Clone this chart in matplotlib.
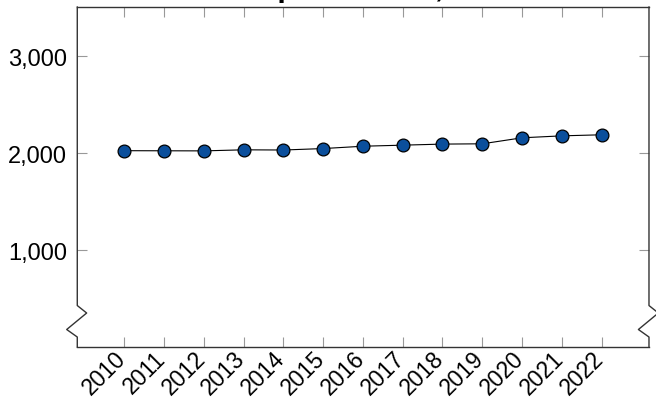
import matplotlib
matplotlib.use('Agg')
import matplotlib.pyplot as plt
import matplotlib.transforms as mtransforms

plt.rcParams['font.family'] = ['Liberation Sans', 'DejaVu Sans']

# dados
anos = [2010, 2011, 2012, 2013, 2014, 2015, 2016, 2017, 2018, 2019, 2020, 2021, 2022]
valores = [2024, 2023, 2022, 2033, 2031, 2046, 2070, 2081, 2092, 2095, 2157, 2177, 2188]
yticks = [1000, 2000, 3000]
ytick_labels = ['1,000', '2,000', '3,000']
titulo = 'Total production, thousand tons'

fig = plt.figure(figsize=(6.56, 4.02), dpi=100)
ax = fig.add_axes([0.1178, 0.1343, 0.8715, 0.8457])

ax.plot(anos, valores, color='black', linewidth=0.8, marker='o', markersize=9.2,
        markerfacecolor='#0b4f9c', markeredgecolor='black', markeredgewidth=0.9, zorder=3)

ax.set_xlim(2008.82, 2023.19)
ax.set_ylim(0, 3505)
ax.set_xticks(anos)
ax.set_xticklabels([str(a) for a in anos])
ax.set_yticks(yticks)
ax.set_yticklabels(ytick_labels)

ax.tick_params(axis='both', which='both', direction='in', length=7.2, width=0.8,
               color='#999999', top=True, right=True, labelsize=17)
ax.tick_params(axis='y', pad=7.5)
ax.tick_params(axis='x', pad=1, labelsize=16.5)

# rotulos do eixo x girados e deslocados um pouco p/ esquerda
desloc = mtransforms.ScaledTranslation(-10 / 100, 2 / 100, fig.dpi_scale_trans)
for lab in ax.get_xticklabels():
    lab.set_rotation(45)
    lab.set_ha('right')
    lab.set_va('top')
    lab.set_rotation_mode('anchor')
    lab.set_transform(lab.get_transform() + desloc)

# eixo y quebrado (zigzag)
for s in ['left', 'right']:
    ax.spines[s].set_visible(False)
for s in ['top', 'bottom']:
    ax.spines[s].set_color('#333333')
    ax.spines[s].set_linewidth(1.0)
zx = [0, 0, -0.0185, 0.0164, 0, 0]
zy = [0, 0.0294, 0.0515, 0.1, 0.122, 1]
for x0 in [0, 1]:
    ax.plot([x0 + v for v in zx], zy, color='#333333', linewidth=1.0,
            transform=ax.transAxes, clip_on=False)

fig.text(199 / 656, 1.008, titulo, fontsize=21.8, fontweight='bold', ha='left', va='baseline')

fig.savefig('out.png', dpi=100)
